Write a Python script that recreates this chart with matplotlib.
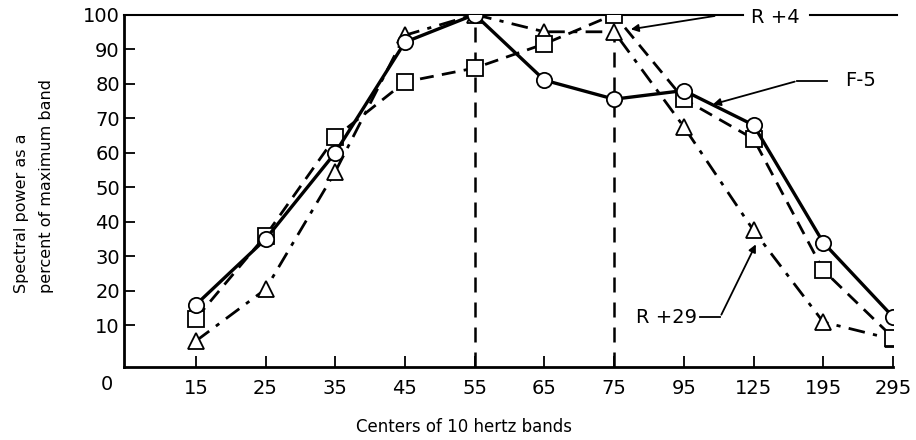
import matplotlib
matplotlib.use('Agg')
import matplotlib.pyplot as plt

bands = ['15', '25', '35', '45', '55', '65', '75', '95', '125', '195', '295']
f5 = [16, 35, 60, 92, 100, 81, 75.5, 78, 68, 34, 12.5]
r4 = [12, 36, 64.5, 80.5, 84.5, 91.5, 100, 75.5, 64, 26, 6.5]
r29 = [5.5, 20.5, 54.5, 94, 100, 95, 95, 67.5, 37.5, 11, 6]
yticks = [10, 20, 30, 40, 50, 60, 70, 80, 90, 100]

x = list(range(len(bands)))

plt.rcParams['font.family'] = 'DejaVu Sans'
fig = plt.figure(figsize=(9.16, 4.4), dpi=100)
ax = fig.add_axes([0.1354, 0.166, 0.8395, 0.801])

ax.plot(x, f5, '-', color='black', lw=2.4, marker='o', ms=11,
        mfc='white', mec='black', mew=1.3, zorder=5)
ax.plot(x, r4, '--', color='black', lw=2.0, dashes=(5, 3), marker='s', ms=11,
        mfc='white', mec='black', mew=1.3, zorder=4)
ax.plot(x, r29, '-.', color='black', lw=2.0, dashes=(6, 3, 1.5, 3), marker='^', ms=12,
        mfc='white', mec='black', mew=1.3, zorder=3)

# peak markers
ax.plot([4, 4], [-2, 100], color='black', lw=1.8, dashes=(6, 4), zorder=1)
ax.plot([6, 6], [-2, 95], color='black', lw=1.8, dashes=(6, 4), zorder=1)

ax.set_xlim(-1.03, 10)
ax.set_ylim(-2, 100)
ax.set_xticks(x)
ax.set_xticklabels(bands)
ax.set_yticks(yticks)
ax.tick_params(direction='in', length=8, width=1.3, labelsize=14)
ax.tick_params(axis='x', pad=9)
ax.tick_params(axis='y', pad=3)
ax.spines['right'].set_visible(False)
ax.spines['top'].set_visible(False)
ax.spines['left'].set_linewidth(2)
ax.spines['bottom'].set_linewidth(2)

# top line at 100 running out to the label
ax.plot([-1.03, 7.85], [100, 100], color='black', lw=1.5, clip_on=False, zorder=2)
ax.plot([8.81, 10.06], [100, 100], color='black', lw=1.5, clip_on=False, zorder=2)
ax.text(8.31, 99.2, 'R +4', fontsize=14, ha='center', va='center')
ax.annotate('', xy=(6.2, 95.6), xytext=(7.48, 99.7),
            arrowprops=dict(arrowstyle='-|>', color='black', lw=1.3, mutation_scale=11),
            annotation_clip=False)

ax.text(9.53, 80.8, 'F-5', fontsize=14, ha='center', va='center')
ax.plot([8.63, 9.06], [80.8, 80.8], color='black', lw=1.3)
ax.annotate('', xy=(7.38, 73.8), xytext=(8.63, 80.8),
            arrowprops=dict(arrowstyle='-|>', color='black', lw=1.3, mutation_scale=11))

ax.text(6.75, 12.4, 'R +29', fontsize=14, ha='center', va='center')
ax.plot([7.23, 7.52], [12.4, 12.4], color='black', lw=1.3)
ax.annotate('', xy=(8.05, 34.2), xytext=(7.52, 12.4),
            arrowprops=dict(arrowstyle='-|>', color='black', lw=1.3, mutation_scale=11))

ax.text(-1.27, -7.2, '0', fontsize=14, ha='center', va='center')
fig.text(464 / 916, 1 - 427 / 440, 'Centers of 10 hertz bands', fontsize=12,
         ha='center', va='center')
fig.text(34 / 916, 1 - 186 / 440, 'Spectral power as a\npercent of maximum band',
         fontsize=11.5, rotation=90, ha='center', va='center',
         multialignment='left', linespacing=1.85)

plt.savefig('out.png', dpi=100)
